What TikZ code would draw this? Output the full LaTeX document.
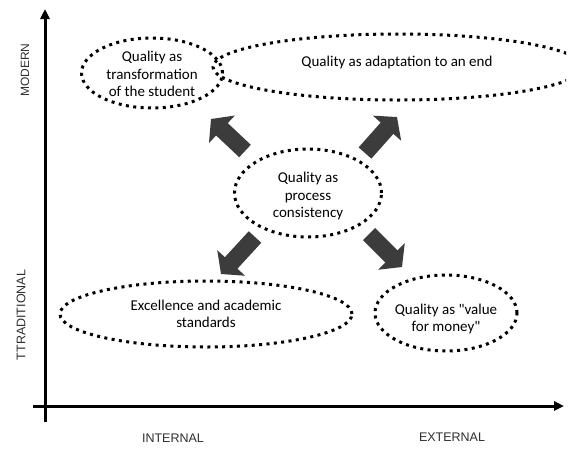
\documentclass[tikz,border=0pt]{standalone}
\usepackage{fontspec}
\setmainfont{Carlito}[Ligatures=TeXOff]
\newfontfamily\axisfont{Liberation Sans}
\usetikzlibrary{shapes.geometric,arrows.meta}
\definecolor{arrowgray}{HTML}{3C3C3C}
\definecolor{axislabel}{HTML}{303030}
\begin{document}
\begin{tikzpicture}[x=1pt,y=-1pt,
  oval/.style={ellipse, draw=black, line width=3pt, dash pattern=on 3pt off 4.4pt, inner sep=0pt},
  lbl/.style={align=center, font=\fontsize{15}{17.5}\selectfont, inner sep=0pt},
  axislbl/.style={font=\axisfont\fontsize{12.5}{14}\selectfont, text=axislabel, inner sep=0pt},
  axisline/.style={line width=3pt, -{Triangle[length=10pt,width=9pt]}},
  blockarrow/.style={draw=arrowgray, line width=17pt, -{Triangle[length=15pt,width=37pt]}, arrowgray}
]
\useasboundingbox (0,0) rectangle (583,453);
\fill[white] (0,0) rectangle (583,453);

% axes
\coordinate (vb) at (45,422);
\coordinate (vt) at (45,9);
\coordinate (hl) at (33,406);
\coordinate (hr) at (564,406);
\draw[axisline] (vb) -- (vt);
\draw[axisline] (hl) -- (hr);

% axis labels
\node[axislbl, rotate=90, font=\axisfont\fontsize{12}{14}\selectfont] (modern) at (25,70) {MODERN};
\node[axislbl, rotate=90] (trad) at (21,315) {TTRADITIONAL};
\node[axislbl] (internal) at (173,438) {INTERNAL};
\node[axislbl] (external) at (452,437) {EXTERNAL};

% ellipses
\begin{scope}
  \clip (0,0) rectangle (566,453);
  \node[oval, minimum width=370pt, minimum height=66pt] (tr) at (398,67) {};
\end{scope}
\node[lbl] (trt) at (397,62) {Quality as adaptation to an end};

\node[oval, minimum width=141pt, minimum height=70pt] (tl) at (152,73) {};
\node[lbl] (tlt) at (152,74) {Quality as\\transformation\\of the student};

\node[oval, minimum width=147pt, minimum height=88pt] (c) at (308,193) {};
\node[lbl] (ct) at (308,196) {Quality as\\process\\consistency};

\node[oval, minimum width=292pt, minimum height=66pt] (bl) at (206,314) {};
\node[lbl] (blt) at (206,314) {Excellence and academic\\standards};

\node[oval, minimum width=142pt, minimum height=76pt] (br) at (446,313) {};
\node[lbl] (brt) at (446,319) {Quality as "value\\for money"};

% block arrows
\coordinate (ulS) at (245,151);
\coordinate (ulE) at (211,119);
\coordinate (urS) at (365,153);
\coordinate (urE) at (397,117);
\coordinate (llS) at (255,237);
\coordinate (llE) at (221,274);
\coordinate (lrS) at (369,234);
\coordinate (lrE) at (402,267);
\draw[blockarrow] (ulS) -- (ulE);
\draw[blockarrow] (urS) -- (urE);
\draw[blockarrow] (llS) -- (llE);
\draw[blockarrow] (lrS) -- (lrE);
\end{tikzpicture}
\end{document}
